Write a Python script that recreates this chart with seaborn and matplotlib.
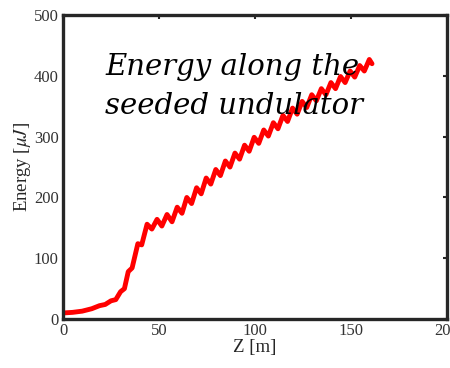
import numpy as np
import pandas as pd
import matplotlib
matplotlib.use("Agg")
import matplotlib.pyplot as plt
import seaborn as sns

# Energy along the undulator (peaks and troughs)
z_m = [0, 5, 10, 15, 19, 22, 25, 27.5, 30, 32, 34, 36, 39, 41,
       43.8, 46.3, 49, 51.5, 54.2, 56.8, 59.5, 62, 64.5, 67, 69.6, 72,
       74.6, 77, 79.6, 82, 84.6, 87, 89.6, 92, 94.6, 97, 99.6, 102,
       104.6, 107, 109.6, 112, 114.6, 117, 119.6, 122, 124.6, 127,
       129.6, 132, 134.6, 137, 139.6, 142, 144.6, 147, 149.6, 152,
       154.6, 157, 159.6, 161]
energy_uj = [10, 11, 13, 17, 22, 24, 30, 32, 45, 50, 78, 84, 124, 122,
             156, 148, 164, 153, 172, 160, 184, 174, 200, 190, 216, 206,
             232, 222, 246, 236, 260, 250, 273, 263, 286, 276, 299, 289,
             311, 301, 323, 313, 335, 325, 347, 337, 358, 348,
             369, 359, 379, 369, 389, 379, 399, 389, 408, 398,
             417, 408, 427, 420]

x_ticks = [0, 50, 100, 150, 200]
y_ticks = [0, 100, 200, 300, 400, 500]

df = pd.DataFrame({"Z": z_m, "E": energy_uj})

sns.set_style("white")
plt.rcParams["font.family"] = ["Liberation Serif", "DejaVu Serif"]
plt.rcParams["mathtext.fontset"] = "stix"

fig = plt.figure(figsize=(4.5, 3.68), dpi=100)
ax = fig.add_axes([0.14, 0.133, 0.853, 0.826])

sns.lineplot(data=df, x="Z", y="E", color="#ff0000", linewidth=3.5, ax=ax,
             solid_joinstyle="round", solid_capstyle="round")

ax.set_xlim(0, 200)
ax.set_ylim(0, 500)
ax.set_xticks(x_ticks)
ax.set_yticks(y_ticks)
ax.set_xlabel("Z [m]", fontsize=13.5, color="#262626", labelpad=0)
ax.set_ylabel(r"Energy [$\mu J$]", fontsize=13.5, color="#262626", labelpad=1)

for s in ax.spines.values():
    s.set_linewidth(2.4)
    s.set_color("#262626")
ax.tick_params(direction="in", length=3, width=1.5, colors="#262626",
               labelsize=12, top=True, right=True, pad=3)
ax.tick_params(axis="both", labelcolor="#333333")

ax.text(0.11, 0.875, "Energy along the\nseeded undulator", transform=ax.transAxes,
        fontsize=21, style="italic", family="DejaVu Serif", color="black",
        va="top", ha="left", linespacing=1.5, zorder=5)

fig.savefig("out.png", dpi=100)
